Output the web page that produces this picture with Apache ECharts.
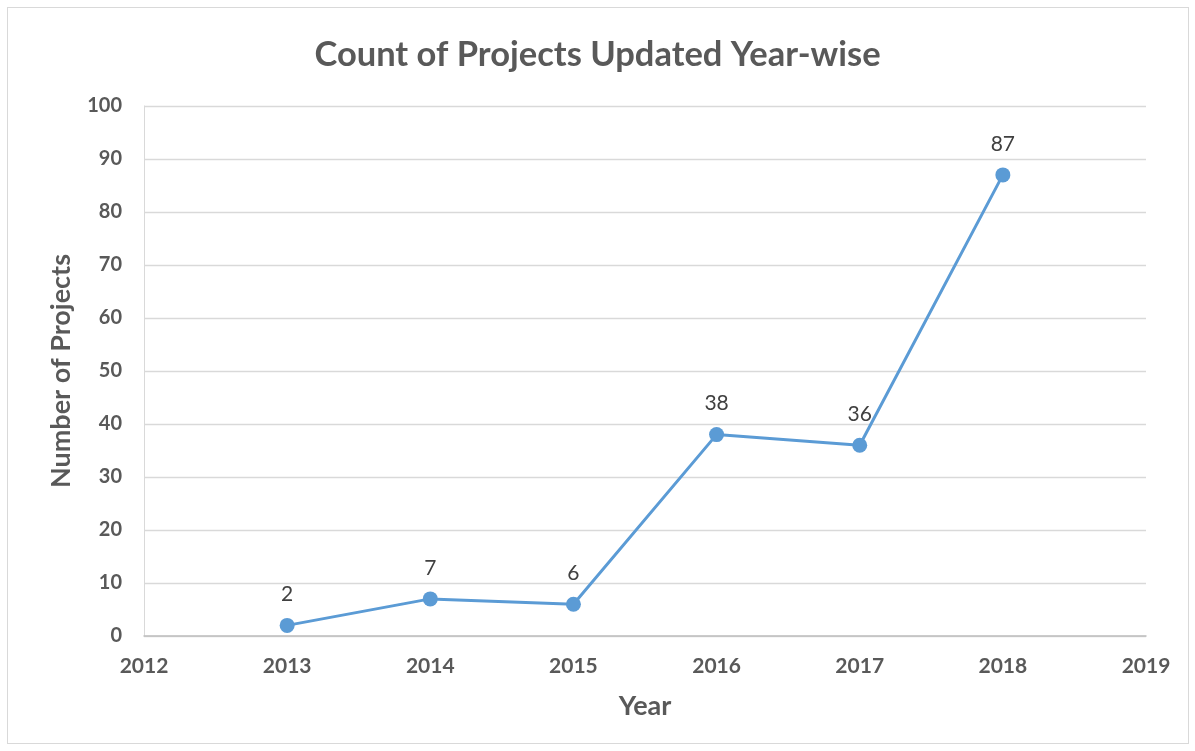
<!DOCTYPE html>
<html><head><meta charset="utf-8">
<script src="https://cdn.jsdelivr.net/npm/echarts@6/dist/echarts.min.js"></script>
<style>html,body{margin:0;padding:0;background:#fff}#c{width:1195px;height:751px}
#frame{position:absolute;left:7px;top:7px;width:1182px;height:737px;border:1px solid #d9d9d9;box-sizing:border-box;pointer-events:none}</style>
</head><body><div id="c"></div><div id="frame"></div>
<script>
const years = [2013, 2014, 2015, 2016, 2017, 2018];
const projects = [2, 7, 6, 38, 36, 87];
const titleText = 'Count of Projects Updated Year-wise';
const xName = 'Year';
const yName = 'Number of Projects';

const chart = echarts.init(document.getElementById('c'));
chart.setOption({
  animation: false,
  textStyle: { fontFamily: 'Lato' },
  title: { text: titleText, left: 'center', top: 32,
    textStyle: { fontFamily: 'Lato', fontSize: 34.5, fontWeight: 'bold', color: '#595959' } },
  grid: { left: 144, right: 49, top: 106, bottom: 115, containLabel: false },
  xAxis: { type: 'value', min: 2012, max: 2019, interval: 1,
    name: xName, nameLocation: 'middle', nameGap: 57,
    nameTextStyle: { fontSize: 27, fontWeight: 'bold', color: '#595959' },
    axisLine: { show: true, lineStyle: { color: '#bfbfbf', width: 1.5 } },
    axisTick: { show: false }, splitLine: { show: false },
    axisLabel: { fontSize: 21, fontWeight: 'bold', color: '#595959', margin: 20,
      formatter: v => String(v) } },
  yAxis: { type: 'value', min: 0, max: 100, interval: 10,
    name: yName, nameLocation: 'middle', nameGap: 69,
    nameTextStyle: { fontSize: 27, fontWeight: 'bold', color: '#595959' },
    axisLine: { show: true, lineStyle: { color: '#d9d9d9' } },
    axisTick: { show: false },
    splitLine: { lineStyle: { color: '#d9d9d9', width: 1.3 } },
    axisLabel: { fontSize: 20, fontWeight: 'bold', color: '#595959', margin: 22 } },
  series: [{ type: 'line', data: years.map((y, i) => [y, projects[i]]),
    symbol: 'circle', symbolSize: 15,
    lineStyle: { color: '#5b9bd5', width: 3 },
    itemStyle: { color: '#5b9bd5' },
    label: { show: true, position: 'top', distance: 13, fontSize: 21, color: '#404040',
      formatter: p => p.value[1] } }]
});
</script></body></html>
